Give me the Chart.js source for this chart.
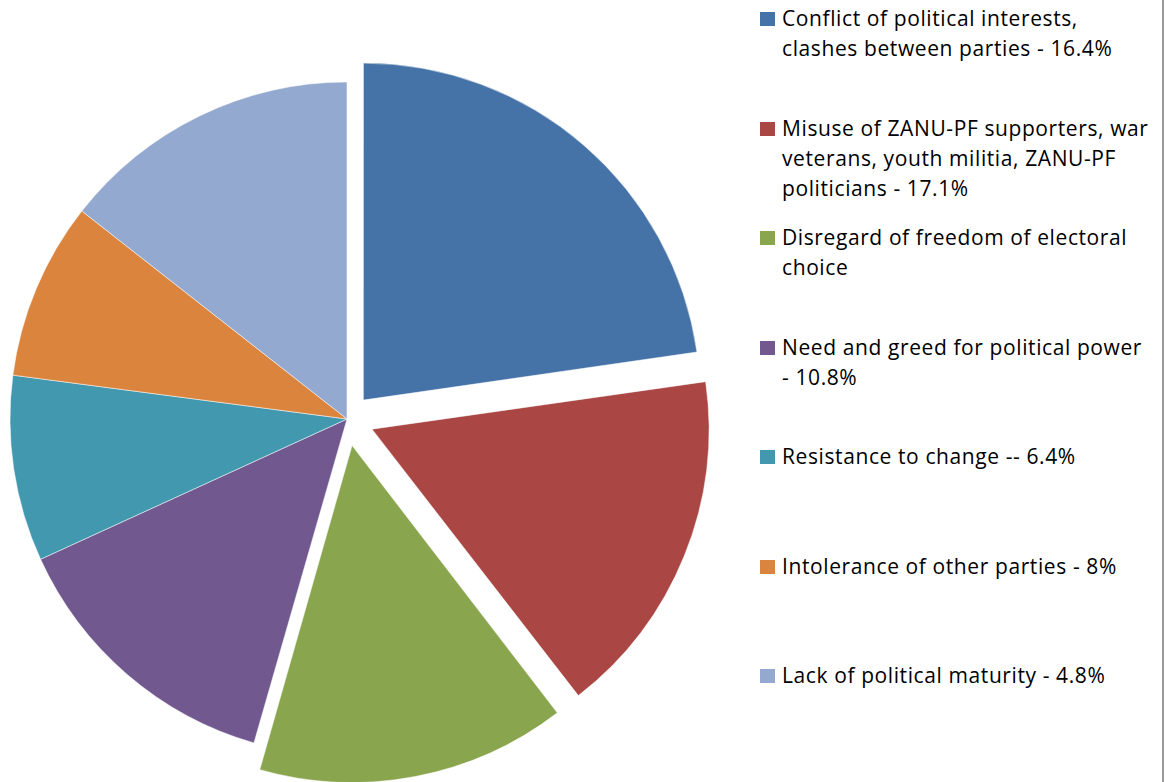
<!DOCTYPE html>
<html>
<head>
<meta charset="utf-8">
<script src="https://cdn.jsdelivr.net/npm/chart.js@4/dist/chart.umd.min.js"></script>
<style>
  html, body { margin: 0; padding: 0; background: #fff; overflow: hidden; }
  body { width: 1168px; height: 782px; position: relative; }
  #chartBox { position: absolute; left: 0; top: 0; width: 760px; height: 782px; }
  .item { position: absolute; left: 760px; }
  .item .box { position: absolute; left: 0; top: 0; width: 15px; height: 14px; }
  .item .txt {
    position: absolute; left: 22px; top: -9px; width: 400px;
    font-family: "Open Sans", sans-serif; font-size: 21px; line-height: 30px;
    color: #000; white-space: nowrap; letter-spacing: 0.6px;
  }
  #rule { position: absolute; left: 1162px; top: 0; width: 2px; height: 782px; background: #9a9a9a; }
</style>
</head>
<body>
<div id="chartBox"><canvas id="pieChart"></canvas></div>
<div id="legend"></div>
<div id="rule"></div>
<script>
// legend labels, already wrapped the way the original shows them
const labels = [
  ['Conflict of political interests,', 'clashes between parties - 16.4%'],
  ['Misuse of ZANU-PF supporters, war', 'veterans, youth militia, ZANU-PF', 'politicians - 17.1%'],
  ['Disregard of freedom of electoral', 'choice'],
  ['Need and greed for political power', '- 10.8%'],
  ['Resistance to change -- 6.4%'],
  ['Intolerance of other parties - 8%'],
  ['Lack of political maturity - 4.8%']
];
const shares = [22.7, 16.8, 14.9, 13.7, 8.9, 8.5, 14.4];
const colors = ['#4572A7', '#AA4643', '#89A54E', '#71588F', '#4198AF', '#DB843D', '#93A9CF'];
// pulled-out slices (chart.js moves a slice by offset/4)
const explode = [100, 108, 108, 0, 0, 0, 0];

const RADIUS = 337;

// keep exploded slices at the same radius as the rest
const keepRadius = {
  id: 'keepRadius',
  afterDatasetUpdate(chart, args) {
    args.meta.data.forEach(arc => {
      const off = (arc.options && arc.options.offset || 0) / 4;
      if (!off) return;
      const circ = arc.endAngle - arc.startAngle;
      const fix = 1 - Math.sin(Math.min(Math.PI, circ));
      arc.outerRadius = RADIUS - off * fix;
    });
  }
};

function renderPie() {
  const ctx = document.getElementById('pieChart').getContext('2d');
  new Chart(ctx, {
    type: 'pie',
    data: {
      labels: labels.map(l => l.join(' ')),
      datasets: [{
        data: shares,
        backgroundColor: colors,
        borderColor: 'rgba(255,255,255,0.5)',
        borderWidth: 1,
        offset: explode,
        hoverOffset: 0
      }]
    },
    options: {
      responsive: true,
      maintainAspectRatio: false,
      animation: false,
      events: [],
      radius: RADIUS,
      layout: { padding: { top: 56, right: 66 } },
      plugins: { legend: { display: false }, tooltip: { enabled: false } }
    },
    plugins: [keepRadius]
  });
}

function renderLegend() {
  const host = document.getElementById('legend');
  labels.forEach((lines, i) => {
    const item = document.createElement('div');
    item.className = 'item';
    item.style.top = (12.3 + 109.5 * i) + 'px';
    const box = document.createElement('div');
    box.className = 'box';
    box.style.background = colors[i];
    const txt = document.createElement('div');
    txt.className = 'txt';
    txt.innerHTML = lines.join('<br>');
    item.appendChild(box);
    item.appendChild(txt);
    host.appendChild(item);
  });
}

renderPie();
renderLegend();
</script>
</body>
</html>
